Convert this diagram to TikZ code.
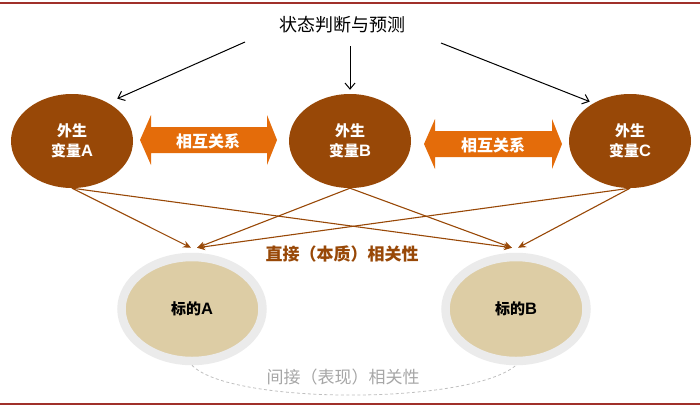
\documentclass[tikz,border=0pt]{standalone}
\usepackage{fontspec}
\setmainfont{Noto Sans CJK SC}
\newfontfamily\latinsf{Liberation Sans}[BoldFont={Liberation Sans Bold}]
\usepackage{tikz}
\usetikzlibrary{shapes.geometric,arrows.meta}
\definecolor{varbrown}{HTML}{984807}
\definecolor{relorange}{HTML}{E46C0A}
\definecolor{tgttan}{HTML}{DDCDA5}
\definecolor{ringgray}{HTML}{EBEBEB}
\definecolor{rulered}{HTML}{A0302A}
\newcommand{\ltr}[1]{{\latinsf\bfseries\fontsize{16.5}{20}\selectfont #1}}

\begin{document}
\begin{tikzpicture}[x=1pt, y=-1pt,
  varbox/.style={ellipse, fill=varbrown, text=white, font=\fontsize{15}{20}\selectfont\bfseries, align=center, minimum width=122pt, minimum height=94pt, inner sep=0pt},
  tgtbox/.style={ellipse, fill=tgttan, draw=ringgray, line width=8.5pt, font=\fontsize{15}{18}\selectfont\bfseries, minimum width=141pt, minimum height=104pt, inner sep=0pt},
  reltext/.style={text=white, font=\fontsize{16}{18}\selectfont\bfseries},
  arr/.style={-{Straight Barb[length=6pt,width=10pt]}, line width=1pt},
  larr/.style={-{Stealth[length=8pt,width=7pt]}, color=varbrown, line width=1.1pt}]
\useasboundingbox (0,0) rectangle (700,408);
% ---- page rules
\draw[rulered, line width=2pt] (0,3) -- (700,3);
\draw[rulered, line width=2pt] (0,404) -- (700,404);
% ---- title and its three arrows
\node[font=\fontsize{18}{20}\selectfont] (title) at (342,25) {状态判断与预测};
\coordinate (fromL) at (245,42);
\coordinate (fromM) at (350,46);
\coordinate (fromR) at (441,43);
% ---- exogenous variables
\node[varbox] (srcA) at (72,141) {外生\\变量\ltr{A}};
\node[varbox] (srcB) at (350,141) {外生\\变量\ltr{B}};
\node[varbox] (srcC) at (630,141) {外生\\变量\ltr{C}};
\draw[arr] (fromL) -- ([shift={(2pt,9pt)}]srcA.north east);
\draw[arr] (fromM) -- ([yshift=4pt]srcB.north);
\draw[arr] (fromR) -- ([shift={(3pt,6pt)}]srcC.north west);
% ---- mutual relations
\fill[relorange] (140,140) -- (151,115) -- (151,127) -- (267,127) -- (267,115) -- (277,140)
  -- (267,165) -- (267,153) -- (151,153) -- (151,165) -- cycle;
\node[reltext] (relAB) at (208,141) {相互关系};
\fill[relorange] (424,144) -- (435,119) -- (435,131) -- (552,131) -- (552,119) -- (562,144)
  -- (552,169) -- (552,157) -- (435,157) -- (435,169) -- cycle;
\node[reltext] (relBC) at (493,145) {相互关系};
% ---- targets
\node[tgtbox] (tgtA) at (192,309) {标的\ltr{A}};
\node[tgtbox] (tgtB) at (516,309) {标的\ltr{B}};
\draw[larr] (srcA.south) -- ([shift={(-1pt,5pt)}]tgtA.north);
\draw[larr] (srcB.south) -- ([shift={(5pt,5pt)}]tgtA.north);
\draw[larr] (srcC.south) -- ([shift={(5pt,5pt)}]tgtA.north);
\draw[larr] (srcA.south) -- ([shift={(-4pt,5pt)}]tgtB.north);
\draw[larr] (srcB.south) -- ([shift={(-4pt,5pt)}]tgtB.north);
\draw[larr] (srcC.south) -- ([shift={(2pt,5pt)}]tgtB.north);
\node[font=\fontsize{17}{20}\selectfont\bfseries, text=varbrown] (direct) at (342,254) {直接（本质）相关性};
% ---- indirect link
\draw[gray!50, line width=0.8pt, dash pattern=on 3pt off 2.5pt] (tgtA.south) .. controls (230,405) and (470,405) .. (tgtB.south);
\node[font=\fontsize{17}{20}\selectfont, text=gray!70] (indirect) at (343,377) {间接（表现）相关性};
\end{tikzpicture}
\end{document}
